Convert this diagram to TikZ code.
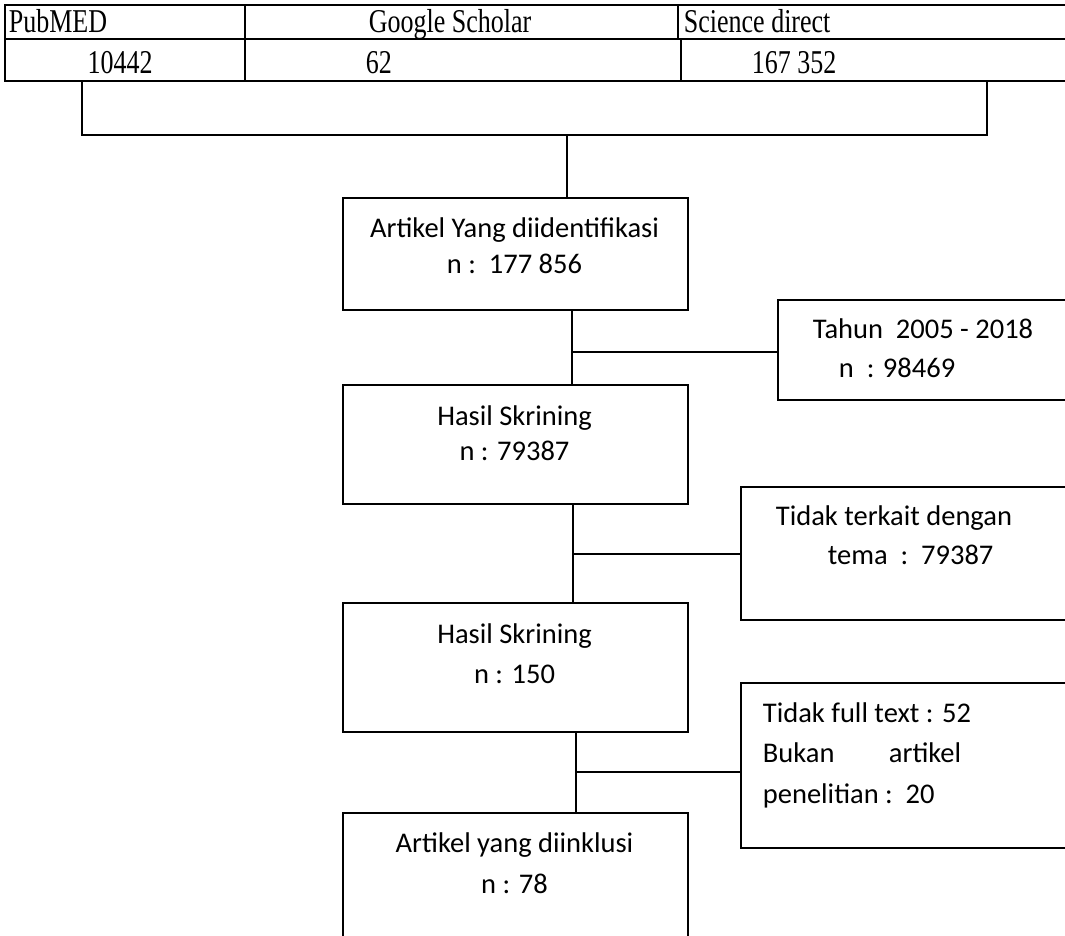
\documentclass[tikz,border=0pt]{standalone}
\usepackage{graphicx}
\usepackage{fontspec}
\setmainfont{Liberation Serif}
\newfontfamily\calfont{Carlito}
\newcommand{\tallt}[1]{\scalebox{1}[1.28]{#1}}
\begin{document}
\begin{tikzpicture}[x=1pt,y=-1pt,line width=1.8pt,
  box/.style={draw,rectangle,anchor=north west,inner sep=0pt},
  tt/.style={inner sep=0pt,font=\fontsize{26}{30}\selectfont},
  ct/.style={inner sep=0pt,anchor=base,font=\calfont\fontsize{28.5}{34}\selectfont},
  lt/.style={inner sep=0pt,anchor=base west,font=\calfont\fontsize{28.5}{34}\selectfont},
  conn/.style={draw,line width=1.8pt}]
\path[use as bounding box,clip] (0,0) rectangle (1065,935);
% table
\node[box,minimum width=1096pt,minimum height=76pt] (tbl) at (4,4) {};
\draw (4,39) -- (1100,39);
\draw (245,4) -- (245,80);
\draw (678,4) -- (678,39);
\draw (681,39) -- (681,80);
\node[tt,anchor=base west] (t1) at (8,32) {\tallt{PubMED}};
\node[tt,anchor=base west] (t2) at (368,32) {\tallt{Google Scholar}};
\node[tt,anchor=base west] (t3) at (683,32) {\tallt{Science direct}};
\node[tt,anchor=base] (t4) at (120,73) {\tallt{10442}};
\node[tt,anchor=base west] (t5) at (365,73) {\tallt{62}};
\node[tt,anchor=base] (t6) at (794,73) {\tallt{167 352}};
% boxes
\node[box,minimum width=345pt,minimum height=112pt] (b1) at (342,197) {};
\node[box,minimum width=345pt,minimum height=119pt] (b2) at (342,384) {};
\node[box,minimum width=345pt,minimum height=129pt] (b3) at (342,602) {};
\node[box,minimum width=345pt,minimum height=148pt] (b4) at (342,812) {};
\node[box,minimum width=323pt,minimum height=100pt] (r1) at (777,299) {};
\node[box,minimum width=360pt,minimum height=133pt] (r2) at (740,486) {};
\node[box,minimum width=360pt,minimum height=165pt] (r3) at (740,682) {};
% texts
\node[ct] (b1a) at (514.5,237) {Artikel Yang diidentifikasi};
\node[ct] (b1b) at (514.5,273) {n :\ \ 177 856};
\node[ct] (b2a) at (514.5,425) {Hasil Skrining};
\node[ct] (b2b) at (514.5,460) {n : 79387};
\node[ct] (b3a) at (514.5,643) {Hasil Skrining};
\node[ct] (b3b) at (514.5,683) {n : 150};
\node[ct] (b4a) at (514.5,852) {Artikel yang diinklusi};
\node[ct] (b4b) at (514.5,893) {n : 78};
\node[lt] (r1a) at (812,338) {Tahun\ \ 2005 - 2018};
\node[lt] (r1b) at (838,377) {n\ \ : 98469};
\node[lt] (r2a) at (775,525) {Tidak terkait dengan};
\node[lt] (r2b) at (827,564) {tema\ \ :\ \ 79387};
\node[lt] (r3a) at (762,722) {Tidak full text : 52};
\node[lt] (r3b) at (762,762) {Bukan};
\node[lt] (r3c) at (888,762) {artikel};
\node[lt] (r3d) at (762,803) {penelitian :\ \ 20};
% bracket
\coordinate (cL) at (82,135);
\coordinate (cR) at (987,135);
\coordinate (cM) at (567,135);
\draw[conn] (tbl.south -| cL) -- (cL) -- (cR) -- (tbl.south -| cR);
\draw[conn] (cM) -- (b1.north -| cM);
% connectors
\coordinate (j1) at (572,352);
\coordinate (j2) at (573,554);
\coordinate (j3) at (576,772);
\draw[conn] (b1.south -| j1) -- (b2.north -| j1);
\draw[conn] (j1) -- (r1.west |- j1);
\draw[conn] (b2.south -| j2) -- (b3.north -| j2);
\draw[conn] (j2) -- (r2.west |- j2);
\draw[conn] (b3.south -| j3) -- (b4.north -| j3);
\draw[conn] (j3) -- (r3.west |- j3);
\end{tikzpicture}
\end{document}
